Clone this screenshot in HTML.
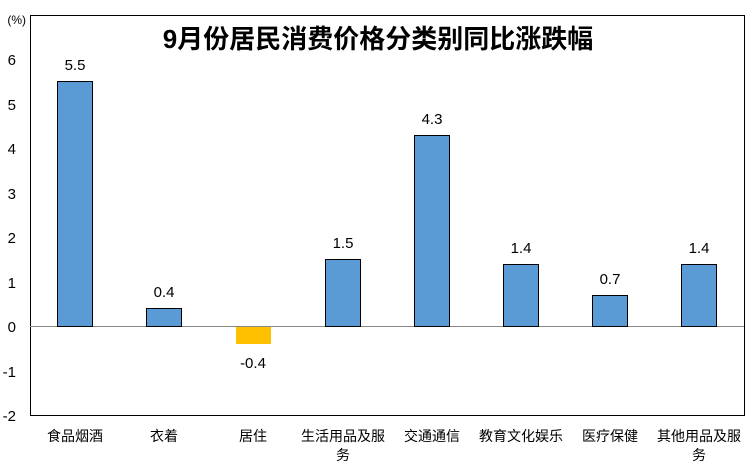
<!DOCTYPE html>
<html><head><meta charset="utf-8"><style>
body{margin:0;background:#fff;}
svg text{font-family:"Liberation Sans","Noto Sans CJK SC",sans-serif;}
</style></head><body>
<svg width="751" height="467" xmlns="http://www.w3.org/2000/svg">
<rect x="0" y="0" width="751" height="467" fill="#fff"/>
<rect x="30.5" y="15.5" width="714" height="400" fill="none" stroke="#000" stroke-width="1"/>
<line x1="30" y1="326.5" x2="744" y2="326.5" stroke="#888" stroke-width="1"/>
<text x="378" y="48" font-size="26" font-weight="bold" text-anchor="middle">9月份居民消费价格分类别同比涨跌幅</text>
<g font-size="15" text-anchor="end" fill="#000">
<text x="26" y="24" font-size="12">(%)</text>
<text x="16" y="65">6</text><text x="16" y="110">5</text><text x="16" y="154">4</text>
<text x="16" y="199">3</text><text x="16" y="243">2</text><text x="16" y="288">1</text>
<text x="16" y="332">0</text><text x="16" y="377">-1</text><text x="16" y="421">-2</text>
</g>
<g fill="#5b9bd5" stroke="#000" stroke-width="1">
<rect x="57.5" y="81.5" width="35" height="245"/>
<rect x="146.5" y="308.5" width="35" height="18"/>
<rect x="325.5" y="259.5" width="35" height="67"/>
<rect x="414.5" y="135.5" width="35" height="191"/>
<rect x="503.5" y="264.5" width="35" height="62"/>
<rect x="592.5" y="295.5" width="35" height="31"/>
<rect x="681.5" y="264.5" width="35" height="62"/>
</g>
<rect x="236" y="327" width="35" height="17" fill="#ffc000"/>
<g font-size="15" text-anchor="middle">
<text x="75" y="70">5.5</text><text x="164" y="297">0.4</text><text x="253" y="368">-0.4</text>
<text x="343" y="248">1.5</text><text x="432" y="124">4.3</text><text x="521" y="253">1.4</text>
<text x="610" y="284">0.7</text><text x="699" y="253">1.4</text>
</g>
<g font-size="14" text-anchor="middle">
<text x="75" y="441">食品烟酒</text><text x="164" y="441">衣着</text><text x="253" y="441">居住</text>
<text x="343" y="441">生活用品及服</text><text x="343" y="460">务</text>
<text x="432" y="441">交通通信</text><text x="521" y="441">教育文化娱乐</text>
<text x="610" y="441">医疗保健</text><text x="699" y="441">其他用品及服</text><text x="699" y="460">务</text>
</g>
</svg>
</body></html>
